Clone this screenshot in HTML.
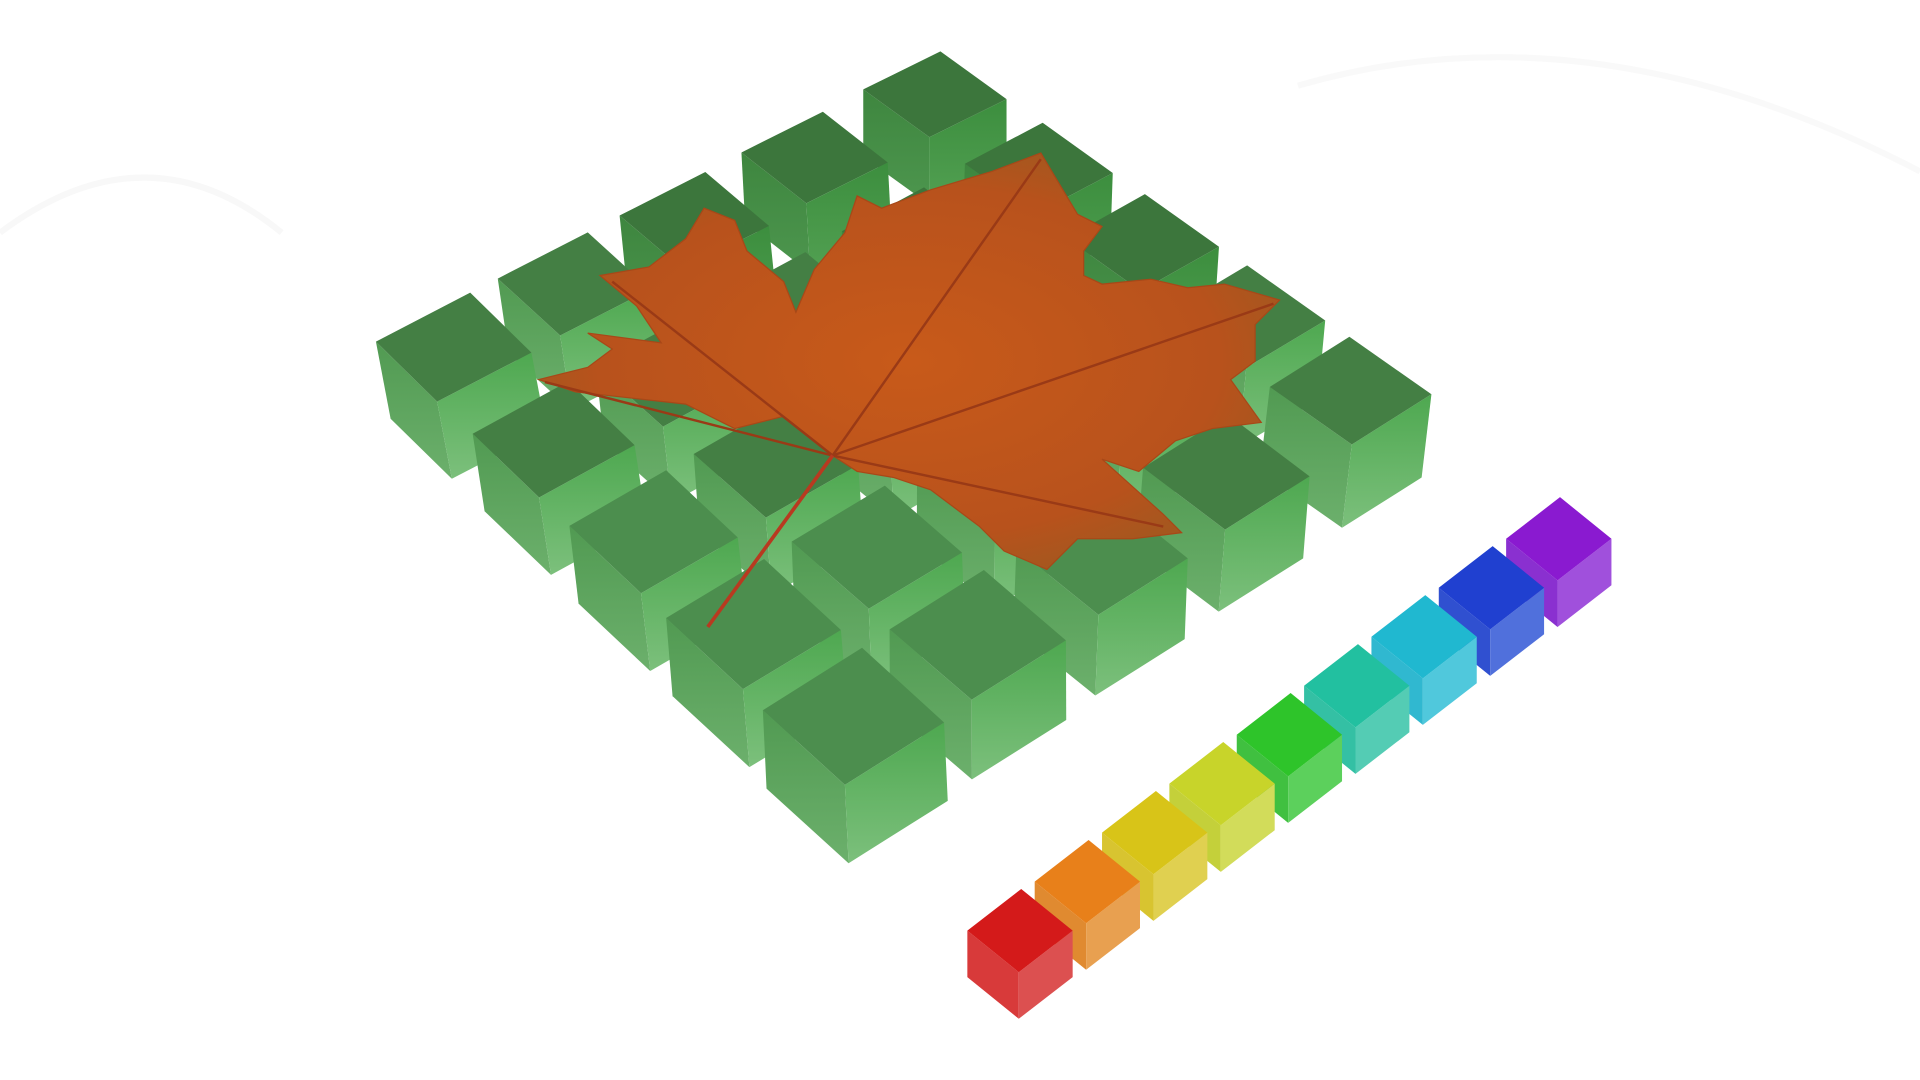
<!DOCTYPE html>
<html><head><meta charset="utf-8"><style>
html,body{margin:0;padding:0;background:#fff;width:1920px;height:1080px;overflow:hidden}
svg{display:block}
</style></head><body>
<svg id="scene" width="1920" height="1080" viewBox="0 0 1568 882" xmlns="http://www.w3.org/2000/svg">
<defs>
<linearGradient id="gl" x1="0" y1="0" x2="0" y2="1"><stop offset="0" stop-color="#519a52"/><stop offset="1" stop-color="#6cb06c"/></linearGradient>
<linearGradient id="gr" x1="0" y1="0" x2="0" y2="1"><stop offset="0" stop-color="#4ea850"/><stop offset="1" stop-color="#7cc07c"/></linearGradient>
<linearGradient id="glb" x1="0" y1="0" x2="0" y2="1"><stop offset="0" stop-color="#3e863f"/><stop offset="1" stop-color="#4d964e"/></linearGradient>
<linearGradient id="grb" x1="0" y1="0" x2="0" y2="1"><stop offset="0" stop-color="#3c8e3e"/><stop offset="1" stop-color="#52a052"/></linearGradient>
<radialGradient id="leafg" cx="0.5" cy="0.5" r="0.6"><stop offset="0" stop-color="#c85a1a"/><stop offset="0.7" stop-color="#b8521c"/><stop offset="1" stop-color="#9a5a20"/></radialGradient>
</defs>
<path d="M0 190 Q120 100 230 190" fill="none" stroke="#f8f8f8" stroke-width="5"/>
<path d="M1060 70 Q1300 0 1568 140" fill="none" stroke="#f9f9f9" stroke-width="5"/>
<g id="green"></g>
<g>
<path fill="url(#leafg)" stroke="#a84818" stroke-width="1"
d="M680 372 L640 340 L600 350 L560 330 L470 320 L440 310 L480 300 L500 285 L480 272 L540 280 L520 250 L490 225 L530 218 L560 195 L575 170 L600 180 L610 205 L640 230 L650 255 L665 220 L690 190 L700 160 L720 170 L760 155 L810 140 L850 125 L865 150 L880 175 L900 185 L885 205 L885 225 L900 232 L940 228 L970 235 L1000 232 L1045 245 L1025 265 L1025 295 L1005 310 L1030 345 L990 350 L960 360 L930 385 L900 375 L950 420 L965 435 L925 440 L880 440 L855 465 L820 450 L800 430 L760 400 L730 390 L700 385 Z"/>
<path fill="none" stroke="#9a3a16" stroke-width="2" d="M680 372 L850 130 M680 372 L1040 248 M680 372 L500 230 M680 372 L445 312 M680 372 L950 430"/>
<path d="M680 372 L578 512" stroke="#b83a20" stroke-width="3"/>
</g>
<g id="rainbow"></g>
</svg>
<script>
const NS='http://www.w3.org/2000/svg';
function poly(g,pts,fill,name){const p=document.createElementNS(NS,'polygon');p.setAttribute('points',pts.map(q=>q.join(',')).join(' '));p.setAttribute('fill',fill);


g.appendChild(p);}
function cube(g,L,u,v,h,top,left,right,name){
 const T=[L[0]+u[0],L[1]+u[1]],B=[L[0]+v[0],L[1]+v[1]],R=[T[0]+v[0],T[1]+v[1]];
 const grp=document.createElementNS(NS,'g');
 
 
 poly(grp,[L,B,[B[0]+h[0],B[1]+h[1]],[L[0]+h[0],L[1]+h[1]]],left,'cube-left-face');
 poly(grp,[B,R,[R[0]+h[0],R[1]+h[1]],[B[0]+h[0],B[1]+h[1]]],right,'cube-right-face');
 poly(grp,[L,T,R,B],top,'cube-top-face');
 g.appendChild(grp);}
// corner camera samples: [L,u,v,h] for grid corners (0,0),(4,0),(0,4),(4,4)
const C00=[[307,279],[77,-40],[50,49],[12,63]];
const C40=[[705,73],[63,-31],[54,39],[0,55]];
const C04=[[623,580],[81,-51],[67,61],[3,64]];
const C44=[[1037,316],[65,-41],[67,47],[-8,68]];
function bil(k,c,s,t){return [0,1].map(d=>(1-s)*(1-t)*C00[k][d]+s*(1-t)*C40[k][d]+(1-s)*t*C04[k][d]+s*t*C44[k][d]);}
const gg=document.getElementById('green');
const cells=[];for(let i=0;i<5;i++)for(let j=0;j<5;j++)cells.push([i,j]);
cells.sort((a,b)=>(a[1]-a[0])-(b[1]-b[0]) || (b[0]-a[0]));
cells.forEach(([i,j])=>{const s=i/4,t=j/4;
 const L=bil(0,0,s,t),u=bil(1,0,s,t),v=bil(2,0,s,t),h=bil(3,0,s,t);
 const back=(j-i)<-1;
 const topc=back?'#3c763c':((j-i)>1?'#4c8e4e':'#447f44');
 cube(gg,L,u,v,h,topc,back?'url(#glb)':'url(#gl)',back?'url(#grb)':'url(#gr)','green-cube');});
const colors=['#d41a1a','#e8801a','#d8c418','#c8d42a','#2ec42a','#22c0a0','#20b8d0','#2040d0','#8a1ad0'];
const lefts=['#d83a3a','#e08a30','#d8c430','#c4d03a','#40c040','#34c0a4','#30b8d0','#3050d0','#8a30d0'];
const rights=['#dc5050','#e8a050','#e0d050','#d2dc5a','#5cd05c','#54ccb4','#50c8dc','#5070dc','#a050dc'];
const rg=document.getElementById('rainbow');
for(let k=colors.length-1;k>=0;k--){const L=[790+k*55,760-k*40];
 cube(rg,L,[44,-34],[42,34],[0,38],colors[k],lefts[k],rights[k],'rainbow-cube');}
</script>
</body></html>
